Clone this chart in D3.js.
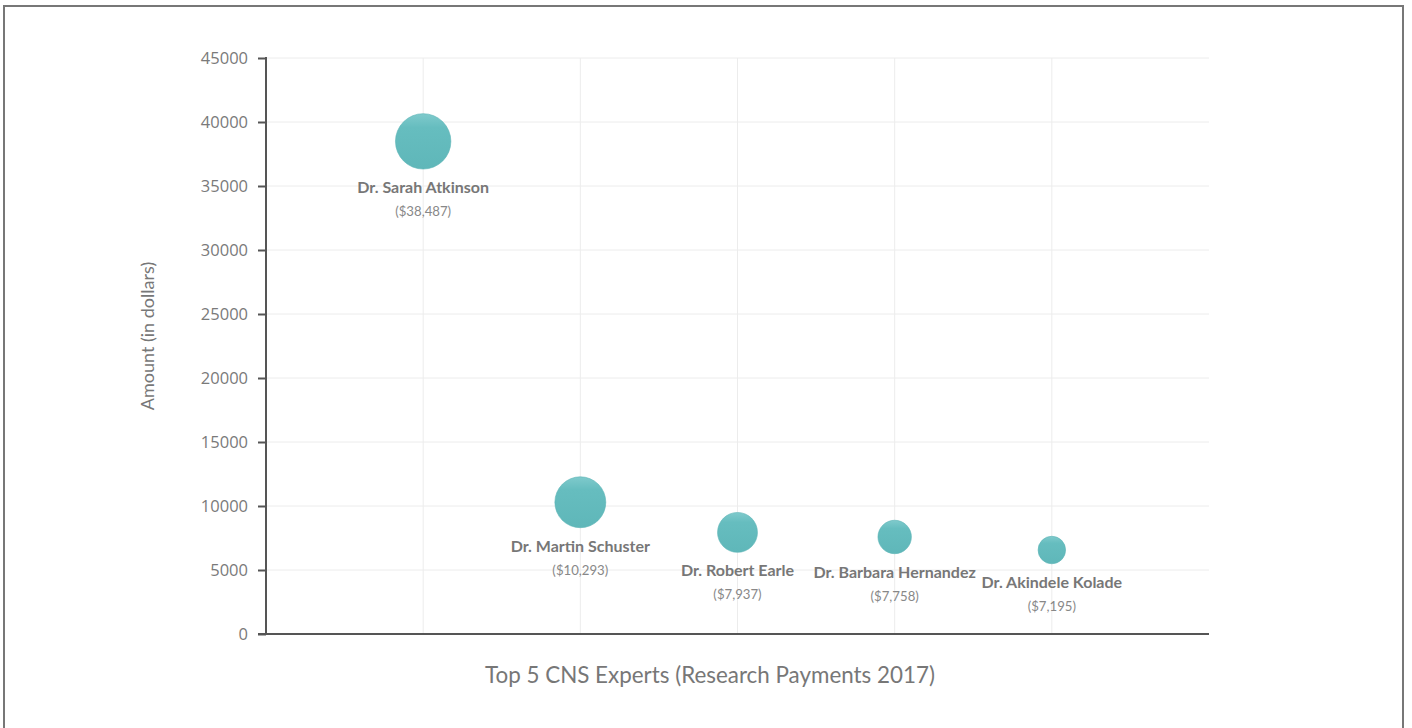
<!DOCTYPE html>
<html>
<head>
<meta charset="utf-8">
<script src="https://cdn.jsdelivr.net/npm/d3@7"></script>
<style>
  body { margin: 0; background: #fff; }
  .frame { position: absolute; left: 3px; top: 5px; width: 1401px; height: 740px;
           border: 2px solid #777; border-bottom: none; box-sizing: border-box; }
  svg { position: absolute; left: 0; top: 0; }
  .tick text { font-family: "Open Sans", sans-serif; font-size: 16.5px; fill: #7a7a7a; }
  .name { font-family: Lato, sans-serif; font-weight: bold; font-size: 16px; fill: #777; }
  .amt { font-family: Lato, sans-serif; font-size: 13.2px; fill: #888; }
</style>
</head>
<body>
<div class="frame"></div>
<script>
var names = ["Dr. Sarah Atkinson", "Dr. Martin Schuster", "Dr. Robert Earle", "Dr. Barbara Hernandez", "Dr. Akindele Kolade"];
var amounts = [38487, 10293, 7937, 7758, 7195];
// where each bubble sits on the y axis
var plotted = [38487, 10293, 7937, 7580, 6560];
// bubble size value
var sizes = [77, 65, 40, 28, 19];
var yTicks = [0, 5000, 10000, 15000, 20000, 25000, 30000, 35000, 40000, 45000];

var W = 1412, H = 728;
var mLeft = 266, mRight = 1209, mTop = 58, mBottom = 634;

var svg = d3.select("body").append("svg")
    .attr("width", W)
    .attr("height", H);

var defs = svg.append("defs");
var grad = defs.append("linearGradient")
    .attr("id", "bub")
    .attr("x1", 0).attr("y1", 0).attr("x2", 0).attr("y2", 1);
grad.append("stop").attr("offset", "0%").attr("stop-color", "#7fcacc");
grad.append("stop").attr("offset", "25%").attr("stop-color", "#66bdbf");
grad.append("stop").attr("offset", "100%").attr("stop-color", "#5fb7b9");

var x = d3.scalePoint()
    .domain(names)
    .range([mLeft, mRight])
    .padding(1);

var y = d3.scaleLinear()
    .domain([0, 45000])
    .range([mBottom, mTop]);

var r = d3.scaleSqrt()
    .domain([0, d3.max(sizes)])
    .range([0, 27.7]);

// grid
svg.append("g")
    .selectAll("line")
    .data(yTicks.slice(1))
    .enter().append("line")
    .attr("x1", mLeft).attr("x2", mRight)
    .attr("y1", function(d) { return y(d); })
    .attr("y2", function(d) { return y(d); })
    .attr("stroke", "#ececec")
    .attr("stroke-width", 1);

svg.append("g")
    .selectAll("line")
    .data(names)
    .enter().append("line")
    .attr("x1", function(d) { return x(d); })
    .attr("x2", function(d) { return x(d); })
    .attr("y1", mTop).attr("y2", mBottom)
    .attr("stroke", "#ececec")
    .attr("stroke-width", 1);

// y axis
var yAxis = svg.append("g")
    .attr("transform", "translate(" + mLeft + ",0)")
    .call(d3.axisLeft(y).tickValues(yTicks).tickFormat(d3.format("d")).tickSize(8).tickPadding(10));
yAxis.selectAll("line").attr("stroke", "#555").attr("stroke-width", 2);
yAxis.select(".domain").remove();
yAxis.append("line")
    .attr("x1", 0).attr("x2", 0)
    .attr("y1", mTop - 1).attr("y2", mBottom + 1)
    .attr("stroke", "#555").attr("stroke-width", 2);

// x axis line
svg.append("line")
    .attr("x1", mLeft - 8).attr("x2", mRight)
    .attr("y1", mBottom).attr("y2", mBottom)
    .attr("stroke", "#555").attr("stroke-width", 2);

// bubbles
var pts = names.map(function(n, i) {
    return {name: n, amt: amounts[i], pos: plotted[i], size: sizes[i]};
});

svg.append("g")
    .selectAll("circle")
    .data(pts)
    .enter().append("circle")
    .attr("cx", function(d) { return x(d.name); })
    .attr("cy", function(d) { return y(d.pos); })
    .attr("r", function(d) { return r(d.size); })
    .attr("fill", "url(#bub)")
    .attr("stroke", "#5ab3b5")
    .attr("stroke-width", 0.6);

var fmt = d3.format(",");
svg.append("g")
    .selectAll("text")
    .data(pts)
    .enter().append("text")
    .attr("class", "name")
    .attr("text-anchor", "middle")
    .attr("x", function(d) { return x(d.name); })
    .attr("y", function(d) { return y(d.pos) + r(d.size) + 24; })
    .text(function(d) { return d.name; });

svg.append("g")
    .selectAll("text")
    .data(pts)
    .enter().append("text")
    .attr("class", "amt")
    .attr("text-anchor", "middle")
    .attr("x", function(d) { return x(d.name); })
    .attr("y", function(d) { return y(d.pos) + r(d.size) + 47; })
    .text(function(d) { return "($" + fmt(d.amt) + ")"; });

// axis titles
svg.append("text")
    .attr("transform", "translate(154,336) rotate(-90)")
    .attr("text-anchor", "middle")
    .style("font-family", "Lato, sans-serif")
    .style("font-size", "18px")
    .style("fill", "#777")
    .text("Amount (in dollars)");

svg.append("text")
    .attr("x", 710)
    .attr("y", 683)
    .attr("text-anchor", "middle")
    .style("font-family", "Lato, sans-serif")
    .style("font-size", "22.4px")
    .style("fill", "#777")
    .text("Top 5 CNS Experts (Research Payments 2017)");
</script>
</body>
</html>
